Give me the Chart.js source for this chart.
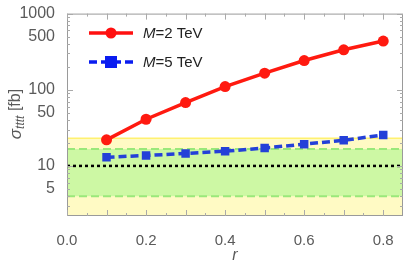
<!DOCTYPE html>
<html>
<head>
<meta charset="utf-8">
<script src="https://cdn.jsdelivr.net/npm/chart.js@4"></script>
<style>
  html,body{margin:0;padding:0;background:#fff;}
  #wrap{width:409px;height:267px;}
</style>
</head>
<body>
<div id="wrap"><canvas id="chart" width="409" height="267"></canvas></div>
<script>
// ===== DATA =====
const rValues = [0.1,0.2,0.3,0.4,0.5,0.6,0.7,0.8];
const sigmaM2 = [22,41,68,110,165,242,335,436];
const sigmaM5 = [13.0,13.7,14.6,15.6,17.2,19.3,21.7,25.5];
const seriesLabels = ["=2 TeV","=5 TeV"];

const yTickValues = [3,4,5,6,7,8,9,10,20,30,40,50,60,70,80,90,100,200,300,400,500,600,700,800,900,1000];
const yTickLabels = [5,10,50,100,500,1000];
const xTickValues = [0,0.05,0.1,0.15,0.2,0.25,0.3,0.35,0.4,0.45,0.5,0.55,0.6,0.65,0.7,0.75,0.8];
const xTickLabels = [0,0.2,0.4,0.6,0.8];

const yellowBand = [2.2,23];
const greenBand = [4.0,16.7];
const refLine = 10;

const GRAY = "#5a5a5a";
const FONT = "'Liberation Sans', Arial, sans-serif";

// ===== PLUGINS =====
const bands = {
  id:"bands",
  beforeDatasetsDraw(c){
    const {ctx, chartArea:a, scales:{x,y}} = c;
    ctx.save();
    ctx.beginPath(); ctx.rect(a.left,a.top,a.right-a.left,a.bottom-a.top); ctx.clip();
    let yt=y.getPixelForValue(yellowBand[1]), yb=y.getPixelForValue(yellowBand[0]);
    ctx.fillStyle="#fffac4";
    ctx.fillRect(a.left,yt,a.right-a.left,yb-yt);
    ctx.strokeStyle="#fff170"; ctx.lineWidth=1.5; ctx.setLineDash([]);
    ctx.beginPath(); ctx.moveTo(a.left,yt); ctx.lineTo(a.right,yt); ctx.stroke();
    let gt=y.getPixelForValue(greenBand[1]), gb=y.getPixelForValue(greenBand[0]);
    ctx.fillStyle="#cdf8a4";
    ctx.fillRect(a.left,gt,a.right-a.left,gb-gt);
    ctx.strokeStyle="#9ae87a"; ctx.lineWidth=2; ctx.setLineDash([8,4]);
    [gt,gb].forEach(p=>{ctx.beginPath(); ctx.moveTo(a.left,p); ctx.lineTo(a.right,p); ctx.stroke();});
    let ry=y.getPixelForValue(refLine);
    ctx.strokeStyle="#000"; ctx.lineWidth=2.5; ctx.setLineDash([3,3]);
    ctx.beginPath(); ctx.moveTo(a.left,ry); ctx.lineTo(a.right,ry); ctx.stroke();
    ctx.restore();
  }
};

const frame = {
  id:"frame",
  afterDatasetsDraw(c){
    const {ctx, chartArea:a, scales:{x,y}} = c;
    ctx.save();
    ctx.strokeStyle="#9a9a9a"; ctx.lineWidth=1;
    ctx.strokeRect(a.left+0.5,a.top+0.5,a.right-a.left-1,a.bottom-a.top-1);
    ctx.strokeStyle="#aaa";
    yTickValues.forEach(v=>{
      let p=Math.round(y.getPixelForValue(v))+0.5;
      let len=[1,10,100,1000].includes(v)?6:3;
      ctx.beginPath();
      ctx.moveTo(a.left,p); ctx.lineTo(a.left+len,p);
      ctx.moveTo(a.right,p); ctx.lineTo(a.right-len,p);
      ctx.stroke();
    });
    xTickValues.forEach(v=>{
      let p=Math.round(x.getPixelForValue(v))+0.5;
      let len=(Math.round(v*100)%10===0)?6:3;
      ctx.beginPath();
      ctx.moveTo(p,a.bottom); ctx.lineTo(p,a.bottom-len);
      ctx.moveTo(p,a.top); ctx.lineTo(p,a.top+len);
      ctx.stroke();
    });
    ctx.restore();
  },
  afterDraw(c){
    const ctx=c.ctx;
    // legend
    const items=[
      {y:33,color:"#ff1010",dash:[],style:"circle"},
      {y:62,color:"#0a1cf0",dash:[8,4],style:"rect"}
    ];
    ctx.save();
    items.forEach((it,i)=>{
      ctx.strokeStyle=it.color; ctx.lineWidth=3.5; ctx.setLineDash(it.dash);
      ctx.beginPath(); ctx.moveTo(89,it.y); ctx.lineTo(133,it.y); ctx.stroke();
      ctx.setLineDash([]); ctx.fillStyle=it.color;
      if(it.style==="circle"){ctx.beginPath(); ctx.arc(111,it.y,5.5,0,Math.PI*2); ctx.fill();}
      else ctx.fillRect(105,it.y-6,12,12);
      ctx.fillStyle="#222"; ctx.textBaseline="middle"; ctx.textAlign="left";
      ctx.font="italic 15px "+FONT;
      ctx.fillText("M",143,it.y+1);
      let w=ctx.measureText("M").width;
      ctx.font="15px "+FONT;
      ctx.fillText(seriesLabels[i],143+w,it.y+1);
    });
    // y title
    ctx.translate(16,114); ctx.rotate(-Math.PI/2);
    ctx.fillStyle=GRAY; ctx.textBaseline="middle";
    const parts=[["italic 17px ","σ",0],["italic 12px ","tttt",5],["16px "," [fb]",0]];
    let total=0;
    parts.forEach(p=>{ctx.font=p[0]+FONT; total+=ctx.measureText(p[1]).width;});
    let cx=-total/2;
    parts.forEach(p=>{ctx.font=p[0]+FONT; ctx.fillText(p[1],cx,p[2]); cx+=ctx.measureText(p[1]).width;});
    ctx.restore();
  }
};

// ===== CHART =====
new Chart(document.getElementById("chart"),{
  type:"line",
  data:{
    datasets:[
      {
        data:rValues.map((r,i)=>({x:r,y:sigmaM2[i]})),
        borderColor:"#ff1a10", backgroundColor:"#ff1a10",
        borderWidth:3.5, pointRadius:5.5, pointStyle:"circle", pointBorderWidth:0
      },
      {
        data:rValues.map((r,i)=>({x:r,y:sigmaM5[i]})),
        borderColor:"#2440d8", backgroundColor:"#2440d8",
        borderWidth:3.5, borderDash:[8,4], pointRadius:6, pointStyle:"rect", pointBorderWidth:0
      }
    ]
  },
  options:{
    responsive:false, animation:false,
    layout:{padding:{left:0,right:6,top:10,bottom:0}},
    plugins:{legend:{display:false},tooltip:{enabled:false}},
    scales:{
      x:{
        type:"linear", min:0, max:0.85,
        grid:{display:false}, border:{display:false},
        afterBuildTicks(s){s.ticks=xTickLabels.map(v=>({value:v}));},
        afterFit(s){s.height=51;},
        ticks:{color:GRAY,font:{family:FONT,size:15},padding:8,maxRotation:0,
          callback:v=>v.toFixed(1)},
        title:{display:true,text:"r",color:GRAY,font:{family:FONT,size:16,style:"italic"},padding:{top:2,bottom:2}}
      },
      y:{
        type:"logarithmic", min:yellowBand[0], max:1000,
        grid:{display:false}, border:{display:false},
        afterBuildTicks(s){s.ticks=yTickValues.map(v=>({value:v}));},
        afterFit(s){s.width=67;},
        ticks:{color:GRAY,font:{family:FONT,size:16},padding:4,autoSkip:false,
          callback:v=>yTickLabels.includes(v)?String(v):""}
      }
    }
  },
  plugins:[bands,frame]
});
</script>
</body>
</html>
